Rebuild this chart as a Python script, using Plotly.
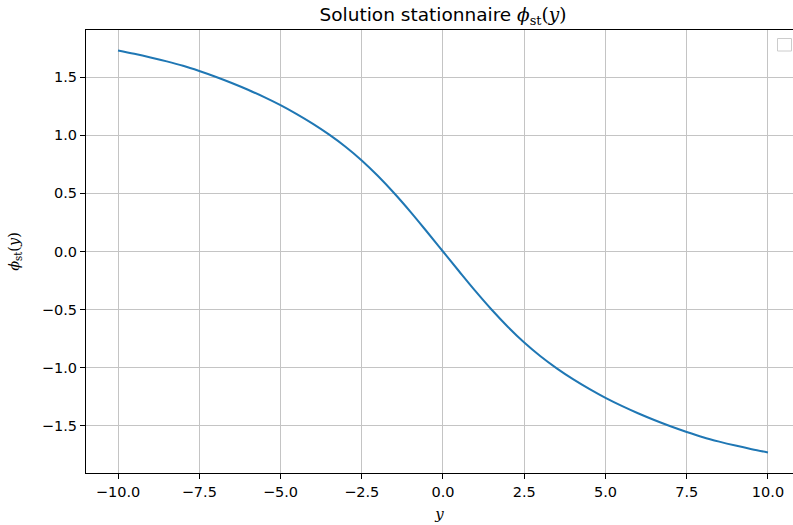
import plotly.graph_objects as go

# Values
y_vals = [-10.0, -9.5, -9.0, -8.5, -8.0, -7.5, -7.0, -6.5, -6.0, -5.5, -5.0,
          -4.5, -4.0, -3.5, -3.0, -2.5, -2.0, -1.5, -1.0, -0.5, 0.0,
          0.5, 1.0, 1.5, 2.0, 2.5, 3.0, 3.5, 4.0, 4.5, 5.0,
          5.5, 6.0, 6.5, 7.0, 7.5, 8.0, 8.5, 9.0, 9.5, 10.0]
phi_vals = [1.728, 1.700, 1.669, 1.635, 1.597, 1.552, 1.503, 1.449, 1.391, 1.328, 1.259,
            1.182, 1.098, 1.005, 0.901, 0.783, 0.649, 0.501, 0.341, 0.172, 0.0,
            -0.172, -0.341, -0.501, -0.649, -0.783, -0.901, -1.005, -1.098, -1.182, -1.259,
            -1.328, -1.391, -1.449, -1.503, -1.552, -1.597, -1.635, -1.669, -1.700, -1.728]
x_ticks = [-10.0, -7.5, -5.0, -2.5, 0.0, 2.5, 5.0, 7.5, 10.0]
y_ticks = [-1.5, -1.0, -0.5, 0.0, 0.5, 1.0, 1.5]

W, H = 793, 525
L, T, B = 86, 30, 52

fig = go.Figure()
fig.add_trace(go.Scatter(x=y_vals, y=phi_vals, mode="lines",
                         line=dict(color="#1f77b4", width=2, shape="spline", smoothing=1.0),
                         showlegend=False))

math = "font-family:'DejaVu Serif'"
fig.update_layout(
    width=W, height=H,
    margin=dict(l=L, r=0, t=T, b=B, pad=0),
    paper_bgcolor="white", plot_bgcolor="white",
    font=dict(family="DejaVu Sans", size=14.5, color="black"),
    showlegend=False,
    title=dict(
        text="Solution stationnaire <span style=\"%s\"><i>ϕ</i><sub>st</sub>(<i>y</i>)</span>" % math,
        x=(443 - L) / (W - L), xref="paper", xanchor="center",
        y=1 - 15 / H, yref="container", yanchor="middle",
        font=dict(size=18.5, family="DejaVu Sans", color="black")),
    xaxis=dict(
        range=[-10.985, 10.77], tickvals=x_ticks, tickformat=".1f",
        showgrid=True, gridcolor="#c4c4c4", gridwidth=1.3,
        zeroline=False, showline=True, linecolor="black", linewidth=1.2,
        mirror=True, ticks="outside", ticklen=5, tickcolor="black",
        tickfont=dict(size=14.5), automargin=False,
        title=dict(text="<span style=\"%s\"><i>y</i></span>" % math,
                   font=dict(size=15), standoff=9)),
    yaxis=dict(
        range=[-1.905, 1.905], tickvals=y_ticks, tickformat=".1f",
        showgrid=True, gridcolor="#c4c4c4", gridwidth=1.3,
        zeroline=False, showline=True, linecolor="black", linewidth=1.2,
        mirror=False, ticks="outside", ticklen=5, tickcolor="black",
        tickfont=dict(size=14.5), automargin=False,
        title=dict(text="<span style=\"%s\"><i>ϕ</i><sub>st</sub>(<i>y</i>)</span>" % math,
                   font=dict(size=14.5), standoff=18)),
)

# empty legend box (cut by the figure edge)
x0 = (777.5 - L) / (W - L)
x1 = (791.5 - L) / (W - L)
y0 = 1 - (51 - T) / (H - T - B)
y1 = 1 - (38.5 - T) / (H - T - B)
fig.add_shape(type="rect", xref="paper", yref="paper", x0=x0, x1=x1, y0=y0, y1=y1,
              line=dict(color="#cccccc", width=1), fillcolor="rgba(255,255,255,0.8)")

fig.write_html("out.html", config={"displayModeBar": False},
               post_script="document.body.style.margin='0';document.body.style.overflow='hidden';")
